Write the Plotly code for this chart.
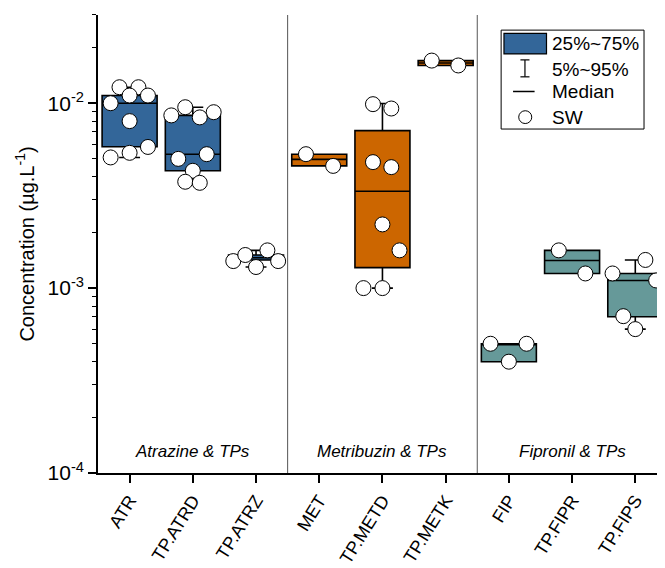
import plotly.graph_objects as go

categories = ["ATR", "TP.ATRD", "TP.ATRZ", "MET", "TP.METD", "TP.METK", "FIP", "TP.FIPR", "TP.FIPS"]
groups = ["Atrazine &amp; TPs", "Metribuzin &amp; TPs", "Fipronil &amp; TPs"]
group_colors = ["#336699", "#CC6600", "#669999"]

# box statistics (µg/L)
q1 = [0.00581, 0.00431, 0.00142, 0.00458, 0.00129, 0.0160, 0.00040, 0.00120, 0.00070]
med = [0.0100, 0.00530, 0.00146, 0.00497, 0.00334, 0.0165, 0.00050, 0.00141, 0.00110]
q3 = [0.0110, 0.00859, 0.00151, 0.00530, 0.00711, 0.0170, 0.00050, 0.00160, 0.00120]
p5 = [0.00509, 0.00379, 0.00130, 0.00458, 0.00100, 0.0160, 0.00040, 0.00120, 0.00060]
p95 = [0.0122, 0.00951, 0.00160, 0.00530, 0.00996, 0.0170, 0.00050, 0.00160, 0.00142]

# surface water (SW) samples
sw_cat = (["ATR"] * 9 + ["TP.ATRD"] * 9 + ["TP.ATRZ"] * 5 + ["MET"] * 2 + ["TP.METD"] * 8
          + ["TP.METK"] * 2 + ["FIP"] * 3 + ["TP.FIPR"] * 2 + ["TP.FIPS"] * 5)
sw_val = [0.0122, 0.0122, 0.0110, 0.0110, 0.0100, 0.0080, 0.0058, 0.00539, 0.00509,
          0.00951, 0.00859, 0.00894, 0.00838, 0.00500, 0.00530, 0.00431, 0.00376, 0.00371,
          0.00140, 0.00151, 0.00160, 0.00140, 0.00130,
          0.00530, 0.00458,
          0.00988, 0.00936, 0.00480, 0.00451, 0.00221, 0.00160, 0.00100, 0.00100,
          0.0170, 0.0160,
          0.00050, 0.00050, 0.00040,
          0.00160, 0.00120,
          0.00142, 0.00120, 0.00110, 0.000705, 0.00060]
sw_jit = [-0.16, 0.14, 0.0, 0.29, -0.30, 0.0, 0.29, 0.0, -0.30,
          -0.12, -0.34, 0.33, 0.11, -0.23, 0.22, 0.0, -0.12, 0.11,
          -0.36, -0.17, 0.18, 0.35, 0.0,
          -0.21, 0.22,
          -0.15, 0.14, -0.15, 0.14, 0.0, 0.27, -0.30, 0.0,
          -0.22, 0.20,
          -0.29, 0.28, 0.0,
          -0.21, 0.21,
          0.16, -0.36, 0.33, -0.19, 0.0]

FONT = "Liberation Sans, Arial, sans-serif"
fig = go.Figure()

idx = list(range(len(categories)))
for g in range(3):
    sl = slice(3 * g, 3 * g + 3)
    fig.add_trace(go.Box(
        x=idx[sl], q1=q1[sl], median=med[sl], q3=q3[sl],
        lowerfence=p5[sl], upperfence=p95[sl],
        fillcolor=group_colors[g], line=dict(color="black", width=1.6),
        width=0.87, whiskerwidth=0.38, boxpoints=False, showlegend=False,
        hoverinfo="skip"))

sw_x = [categories.index(c) + j for c, j in zip(sw_cat, sw_jit)]
fig.add_trace(go.Scatter(
    x=sw_x, y=sw_val, mode="markers", showlegend=False,
    marker=dict(size=15, color="white", line=dict(color="black", width=1))))

# group dividers
for xv in (2.5, 5.5):
    fig.add_shape(type="line", xref="x", yref="paper", x0=xv, x1=xv, y0=0, y1=1,
                  line=dict(color="#555555", width=1))

for g, name in enumerate(groups):
    fig.add_annotation(x=3 * g + 1, y=0.046, xref="x", yref="paper", text=name,
                       showarrow=False, yanchor="middle",
                       font=dict(size=17, family=FONT, style="italic", color="black"))

# manual legend
L = dict(xref="paper", yref="paper")
fig.add_shape(type="rect", x0=0.711, x1=0.963, y0=0.751, y1=0.967,
              line=dict(color="black", width=1), fillcolor="white", **L)
fig.add_shape(type="rect", x0=0.716, x1=0.791, y0=0.915, y1=0.960,
              line=dict(color="black", width=1.2), fillcolor=group_colors[0], **L)
fig.add_shape(type="line", x0=0.753, x1=0.753, y0=0.865, y1=0.902, line=dict(color="black", width=1.2), **L)
fig.add_shape(type="line", x0=0.745, x1=0.761, y0=0.902, y1=0.902, line=dict(color="black", width=1.2), **L)
fig.add_shape(type="line", x0=0.745, x1=0.761, y0=0.865, y1=0.865, line=dict(color="black", width=1.2), **L)
fig.add_shape(type="line", x0=0.732, x1=0.770, y0=0.833, y1=0.833, line=dict(color="black", width=1.5), **L)
fig.add_shape(type="circle", x0=0.742, x1=0.765, y0=0.763, y1=0.791,
              line=dict(color="black", width=1), fillcolor="white", **L)
for txt, yy in [("25%~75%", 0.937), ("5%~95%", 0.882), ("Median", 0.832), ("SW", 0.777)]:
    fig.add_annotation(x=0.797, y=yy, text=txt, showarrow=False, xanchor="left", yanchor="middle",
                       font=dict(size=19, family=FONT, color="black"), **L)

minor_vals = [k * 10.0 ** e for e in (-4, -3, -2) for k in range(2, 10)]
# page body adds an 8px offset, so the figure is 8px smaller than the window
fig.update_layout(
    width=657, height=560,
    margin=dict(l=90, r=0, t=7, b=95),
    paper_bgcolor="white", plot_bgcolor="white",
    font=dict(family=FONT, size=20, color="black"),
    xaxis=dict(range=[-0.5, 8.47], tickvals=idx, ticktext=categories, tickangle=-58,
               showline=True, linecolor="black", linewidth=1.6, ticks="outside",
               ticklen=8, tickwidth=1.6, tickcolor="black", showgrid=False, zeroline=False,
               tickfont=dict(size=18), automargin=False),
    yaxis=dict(type="log", range=[-4, -1.523], showline=True, linecolor="black", linewidth=1.6,
               ticks="outside", ticklen=8, tickwidth=1.6, tickcolor="black", showgrid=False,
               tickvals=[1e-4, 1e-3, 1e-2],
               ticktext=["10<sup>-4</sup>", "10<sup>-3</sup>", "10<sup>-2</sup>"],
               tickfont=dict(size=21), automargin=False,
               minor=dict(tickvals=minor_vals, ticks="outside", ticklen=4, tickwidth=1.4,
                          tickcolor="black", showgrid=False),
               title=dict(text="Concentration (µg.L<sup>-1</sup>)", font=dict(size=20), standoff=8)),
)

fig.write_html("out.html")
